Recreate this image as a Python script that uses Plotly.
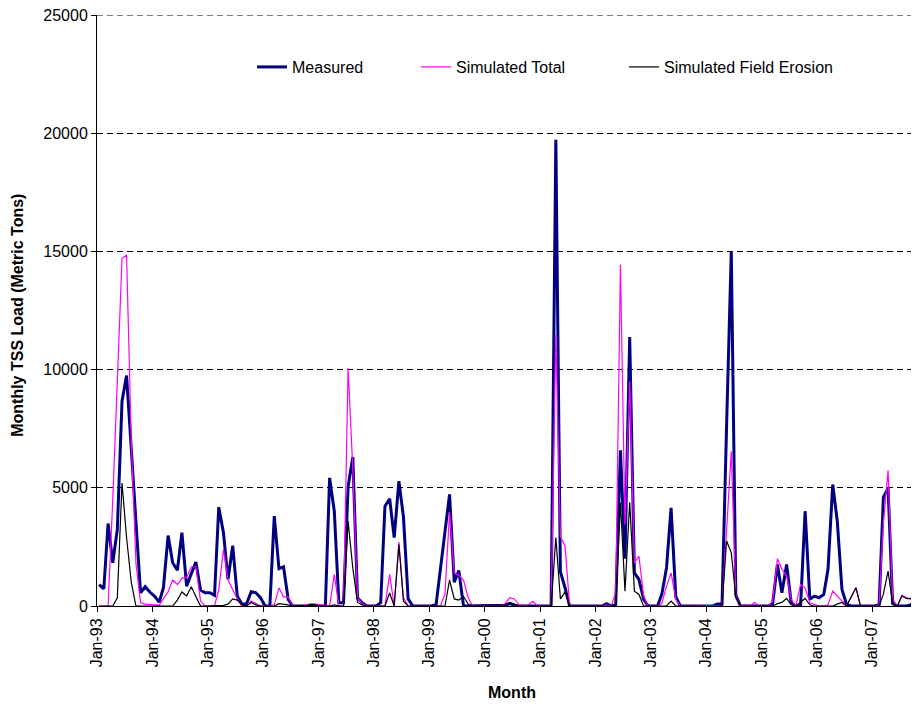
import pandas as pd
import plotly.graph_objects as go

# Months Jan-1993 .. Dec-2007 (plotted mid-month)
months = pd.date_range("1993-01-01", periods=180, freq="MS") + pd.Timedelta(days=14)

measured = [
    900, 730, 3490, 1830, 3240, 8660, 9750, 6600, 3500, 560, 815, 590,        # 1993
    420, 165, 775, 2980, 1830, 1510, 3100, 840, 1370, 1860, 670, 560,         # 1994
    560, 450, 4180, 3100, 1125, 2550, 420, 70, 100, 600, 560, 350,            # 1995
    0, 0, 3800, 1580, 1660, 280, 0, 0, 0, 0, 0, 0,                            # 1996
    0, 0, 5420, 4010, 140, 140, 5050, 6300, 350, 140, 0, 0,                   # 1997
    0, 140, 4220, 4540, 2890, 5280, 3770, 300, 0, 0, 0, 0,                    # 1998
    0, 50, 1600, 3240, 4720, 1010, 1500, 0, 0, 0, 0, 0,                       # 1999
    0, 0, 0, 0, 30, 100, 30, 0, 0, 0, 0, 0,                                   # 2000
    0, 0, 0, 19720, 1450, 770, 0, 0, 0, 0, 0, 0,                              # 2001
    0, 0, 100, 0, 50, 6590, 2000, 11380, 1400, 1125, 280, 0,                  # 2002
    0, 0, 500, 1620, 4150, 400, 0, 0, 0, 0, 0, 0,                             # 2003
    0, 0, 80, 80, 7600, 15000, 450, 0, 0, 0, 0, 0,                            # 2004
    0, 0, 100, 1760, 560, 1760, 140, 0, 0, 4010, 280, 420,                    # 2005
    350, 490, 1550, 5140, 3590, 700, 70, 0, 0, 0, 0, 0,                       # 2006
    0, 50, 4600, 5000, 100, 0, 0, 0, 50, 400, 0, 0,                           # 2007
]

simulated_total = [
    0, 0, 0, 4500, 9500, 14700, 14850, 7000, 1800, 150, 80, 60,               # 1993
    30, 30, 300, 600, 1100, 910, 1170, 1220, 1660, 1660, 210, 0,              # 1994
    0, 0, 700, 2390, 1100, 700, 300, 0, 0, 210, 110, 0,                       # 1995
    0, 0, 50, 770, 390, 390, 0, 0, 0, 50, 100, 80,                            # 1996
    50, 30, 0, 1340, 0, 0, 10070, 5800, 350, 100, 0, 0,                       # 1997
    0, 0, 0, 1340, 0, 2700, 350, 0, 0, 0, 0, 0,                               # 1998
    0, 0, 0, 500, 3980, 1400, 1300, 1100, 350, 0, 0, 0,                       # 1999
    0, 0, 0, 0, 100, 350, 300, 50, 0, 50, 200, 0,                             # 2000
    0, 0, 0, 11480, 2950, 2530, 0, 0, 0, 0, 0, 0,                             # 2001
    0, 0, 50, 0, 560, 14440, 3450, 9510, 1830, 2110, 420, 0,                  # 2002
    0, 0, 100, 840, 1400, 280, 0, 0, 0, 0, 0, 0,                              # 2003
    0, 0, 0, 30, 3200, 6550, 400, 0, 50, 0, 150, 0,                           # 2004
    0, 0, 200, 2000, 1550, 1265, 280, 0, 910, 770, 140, 70,                   # 2005
    0, 0, 50, 630, 420, 210, 0, 380, 775, 0, 0, 0,                            # 2006
    0, 50, 3500, 5740, 300, 0, 450, 350, 300, 2460, 100, 0,                   # 2007
]

field_erosion = [
    0, 0, 0, 0, 350, 5200, 2900, 1000, 0, 0, 0, 0,                            # 1993
    0, 0, 0, 0, 0, 250, 590, 420, 815, 400, 0, 0,                             # 1994
    0, 0, 0, 30, 80, 300, 250, 50, 0, 150, 50, 0,                             # 1995
    0, 0, 0, 100, 80, 50, 0, 0, 0, 30, 60, 50,                                # 1996
    0, 0, 0, 50, 0, 0, 3590, 1600, 150, 50, 0, 0,                             # 1997
    0, 0, 0, 550, 0, 2600, 200, 0, 0, 0, 0, 0,                                # 1998
    0, 0, 0, 0, 1100, 300, 250, 400, 80, 0, 0, 0,                             # 1999
    0, 0, 0, 0, 50, 150, 80, 0, 0, 0, 0, 0,                                   # 2000
    0, 0, 0, 2900, 300, 600, 0, 0, 0, 0, 0, 0,                                # 2001
    0, 0, 0, 0, 50, 4370, 630, 4390, 630, 490, 0, 0,                          # 2002
    0, 0, 0, 0, 210, 0, 0, 0, 0, 0, 0, 0,                                     # 2003
    0, 0, 0, 0, 2750, 2260, 360, 0, 0, 0, 0, 0,                               # 2004
    0, 0, 0, 100, 150, 320, 50, 0, 150, 320, 50, 0,                           # 2005
    0, 0, 0, 0, 80, 150, 0, 380, 775, 0, 0, 0,                                # 2006
    0, 0, 500, 1475, 100, 0, 420, 320, 300, 1430, 100, 0,                     # 2007
]

y_ticks = [0, 5000, 10000, 15000, 20000, 25000]

FONT = "Liberation Sans, Arial, sans-serif"

fig = go.Figure()
fig.add_trace(go.Scatter(x=months, y=measured, mode="lines", name="Measured",
                         line=dict(color="#000080", width=3),
                         legend="legend", showlegend=True))
fig.add_trace(go.Scatter(x=months, y=simulated_total, mode="lines", name="Simulated Total",
                         line=dict(color="#FF00FF", width=1.2),
                         legend="legend2", showlegend=True))
fig.add_trace(go.Scatter(x=months, y=field_erosion, mode="lines", name="Simulated Field Erosion",
                         line=dict(color="#000000", width=1.2),
                         legend="legend3", showlegend=True))

leg_common = dict(orientation="h", yanchor="middle", xanchor="left", y=0.912,
                  bgcolor="rgba(0,0,0,0)", font=dict(family=FONT, size=16, color="black"))

# page body has an 8px default margin; margins compensate for it
fig.update_layout(
    width=911, height=696,
    margin=dict(l=89, r=0, t=7, b=98, autoexpand=False),
    showlegend=True,
    paper_bgcolor="white", plot_bgcolor="white",
    font=dict(family=FONT, size=16, color="black"),
    legend=dict(x=0.1886, **leg_common),
    legend2=dict(x=0.3881, **leg_common),
    legend3=dict(x=0.6411, **leg_common),
    xaxis=dict(
        type="date", range=["1993-01-01", "2007-11-05"],
        tick0="1993-01-01", dtick="M12", tickformat="%b-%y",
        tickangle=-90, ticks="outside", ticklen=5, tickcolor="black",
        showgrid=False, showline=True, linecolor="black", linewidth=1,
        zeroline=False, tickfont=dict(family=FONT, size=16), automargin=False,
    ),
    yaxis=dict(
        range=[0, 25000], tickvals=y_ticks, ticktext=[str(v) for v in y_ticks],
        ticks="outside", ticklen=5, tickcolor="black", ticklabeloverflow="allow",
        showgrid=True, gridcolor="black", gridwidth=1, griddash="6px,4px",
        showline=True, linecolor="black", linewidth=1, zeroline=False,
        tickfont=dict(family=FONT, size=16), automargin=False,
    ),
    shapes=[
        dict(type="line", xref="paper", yref="y", x0=0, x1=1, y0=25000, y1=25000,
             line=dict(color="black", width=1, dash="6px,4px"), layer="below"),
    ],
    annotations=[
        dict(text="<b>Month</b>", xref="paper", yref="paper", x=0.505, y=-0.147,
             xanchor="center", yanchor="middle", showarrow=False,
             font=dict(family=FONT, size=16)),
        dict(text="<b>Monthly TSS Load (Metric Tons)</b>", xref="paper", yref="paper",
             x=-0.0961, y=0.491, xanchor="center", yanchor="middle", textangle=-90,
             showarrow=False, font=dict(family=FONT, size=16)),
    ],
)

fig.write_html("out.html")
